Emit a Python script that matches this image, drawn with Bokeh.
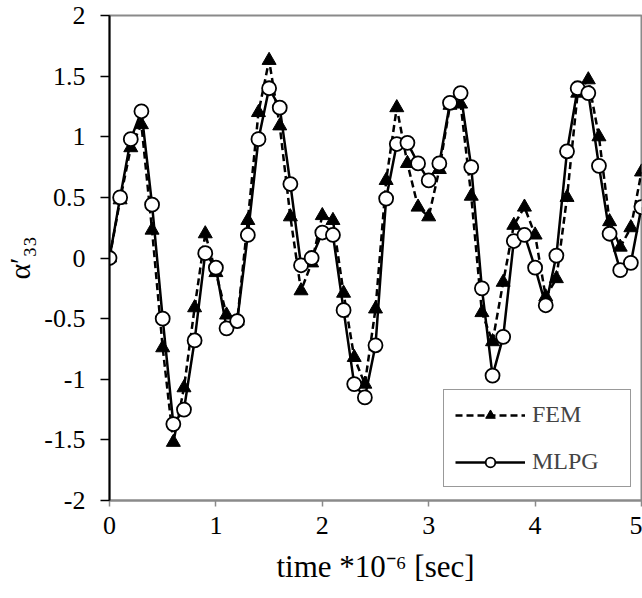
from bokeh.plotting import figure
from bokeh.models import Range1d, FixedTicker, Legend, LegendItem
from bokeh.embed import file_html
from bokeh.resources import INLINE

# ---- data ----
time = [0.0, 0.1, 0.2, 0.3, 0.4, 0.5, 0.6, 0.7, 0.8, 0.9,
        1.0, 1.1, 1.2, 1.3, 1.4, 1.5, 1.6, 1.7, 1.8, 1.9,
        2.0, 2.1, 2.2, 2.3, 2.4, 2.5, 2.6, 2.7, 2.8, 2.9,
        3.0, 3.1, 3.2, 3.3, 3.4, 3.5, 3.6, 3.7, 3.8, 3.9,
        4.0, 4.1, 4.2, 4.3, 4.4, 4.5, 4.6, 4.7, 4.8, 4.9, 5.0]

fem = [0.00, 0.48, 0.91, 1.10, 0.23, -0.74, -1.52, -1.07, -0.41, 0.20,
       -0.12, -0.47, -0.52, 0.31, 1.20, 1.63, 1.09, 0.34, -0.27, -0.04,
       0.35, 0.31, -0.29, -0.82, -1.04, -0.42, 0.64, 1.24, 0.78, 0.42,
       0.34, 0.73, 1.26, 1.27, 0.51, -0.45, -0.69, -0.20, 0.27, 0.42,
       0.19, -0.32, -0.17, 0.50, 1.36, 1.47, 1.00, 0.30, 0.09, 0.25, 0.71]

mlpg = [0.00, 0.50, 0.98, 1.21, 0.44, -0.50, -1.37, -1.25, -0.68, 0.04,
        -0.08, -0.58, -0.52, 0.19, 0.98, 1.40, 1.24, 0.61, -0.06, 0.00,
        0.21, 0.19, -0.43, -1.04, -1.15, -0.72, 0.49, 0.94, 0.95, 0.78,
        0.64, 0.78, 1.28, 1.36, 0.75, -0.25, -0.97, -0.65, 0.14, 0.19,
        -0.08, -0.39, 0.02, 0.88, 1.40, 1.36, 0.76, 0.20, -0.10, -0.04, 0.42]

x_ticks = [0, 1, 2, 3, 4, 5]
x_tick_labels = ["0", "1", "2", "3", "4", "5"]
y_ticks = [-2, -1.5, -1, -0.5, 0, 0.5, 1, 1.5, 2]
y_tick_labels = ["-2", "-1.5", "-1", "-0.5", "0", "0.5", "1", "1.5", "2"]

series_names = ["FEM", "MLPG"]
x_title = "time *10\u207b\u2076 [sec]"
y_title = "\u03b1\u2032\u2083\u2083"

FONT = "Liberation Serif"

p = figure(width=642, height=598, output_backend="svg", toolbar_location=None,
           x_range=Range1d(0, 5), y_range=Range1d(-2, 2),
           min_border_left=109, min_border_right=1, min_border_top=15,
           min_border_bottom=98)
p.grid.visible = False
p.background_fill_color = "white"
p.border_fill_color = "white"
p.outline_line_color = "#8a8a8a"
p.outline_line_width = 2

l1 = p.line(time, fem, line_color="black", line_width=2.5, line_dash="7 4")
s1 = p.scatter(time, fem, marker="triangle", size=14, fill_color="black",
               line_color="black")
l2 = p.line(time, mlpg, line_color="black", line_width=2.5)
s2 = p.scatter(time, mlpg, marker="circle", size=14, fill_color="white",
               line_color="black", line_width=1.8)

# axes
p.xaxis.ticker = FixedTicker(ticks=x_ticks)
p.xaxis.major_label_overrides = dict(zip(x_ticks, x_tick_labels))
p.yaxis.ticker = FixedTicker(ticks=y_ticks)
p.yaxis.major_label_overrides = dict(zip(y_ticks, y_tick_labels))

for ax in (p.xaxis, p.yaxis):
    ax.minor_tick_line_color = None
    ax.major_tick_in = 0
    ax.major_label_text_font = FONT
    ax.major_label_text_font_size = "26px"
    ax.major_label_text_color = "black"
    ax.axis_label_text_font = FONT
    ax.axis_label_text_font_style = "normal"
    ax.axis_label_text_color = "black"

p.xaxis.axis_label = x_title
p.xaxis.axis_label_text_font_size = "31px"
p.xaxis.axis_line_color = "#8a8a8a"
p.xaxis.axis_line_width = 2
p.xaxis.major_tick_line_color = "#8a8a8a"
p.xaxis.major_tick_line_width = 1.5
p.xaxis.major_tick_out = 6
p.xaxis.major_label_standoff = 10
p.xaxis.axis_label_standoff = 12

p.yaxis.axis_label = y_title
p.yaxis.axis_label_text_font_size = "30px"
p.yaxis.axis_line_color = "black"
p.yaxis.axis_line_width = 2
p.yaxis.major_tick_line_color = "black"
p.yaxis.major_tick_line_width = 1.5
p.yaxis.major_tick_out = 9
p.yaxis.major_label_standoff = 15
p.yaxis.axis_label_standoff = 5

legend = Legend(items=[LegendItem(label=series_names[0], renderers=[l1, s1]),
                       LegendItem(label=series_names[1], renderers=[l2, s2])],
                location=(334, 13))
legend.border_line_color = "#333333"
legend.border_line_width = 1.5
legend.background_fill_color = "white"
legend.background_fill_alpha = 1
legend.label_text_font = FONT
legend.label_text_font_size = "24px"
legend.glyph_width = 70
legend.glyph_height = 24
legend.padding = 11
legend.spacing = 20
legend.label_standoff = 7
legend.label_width = 87
legend.margin = 0
p.add_layout(legend)

open("out.html", "w").write(file_html(p, INLINE))
